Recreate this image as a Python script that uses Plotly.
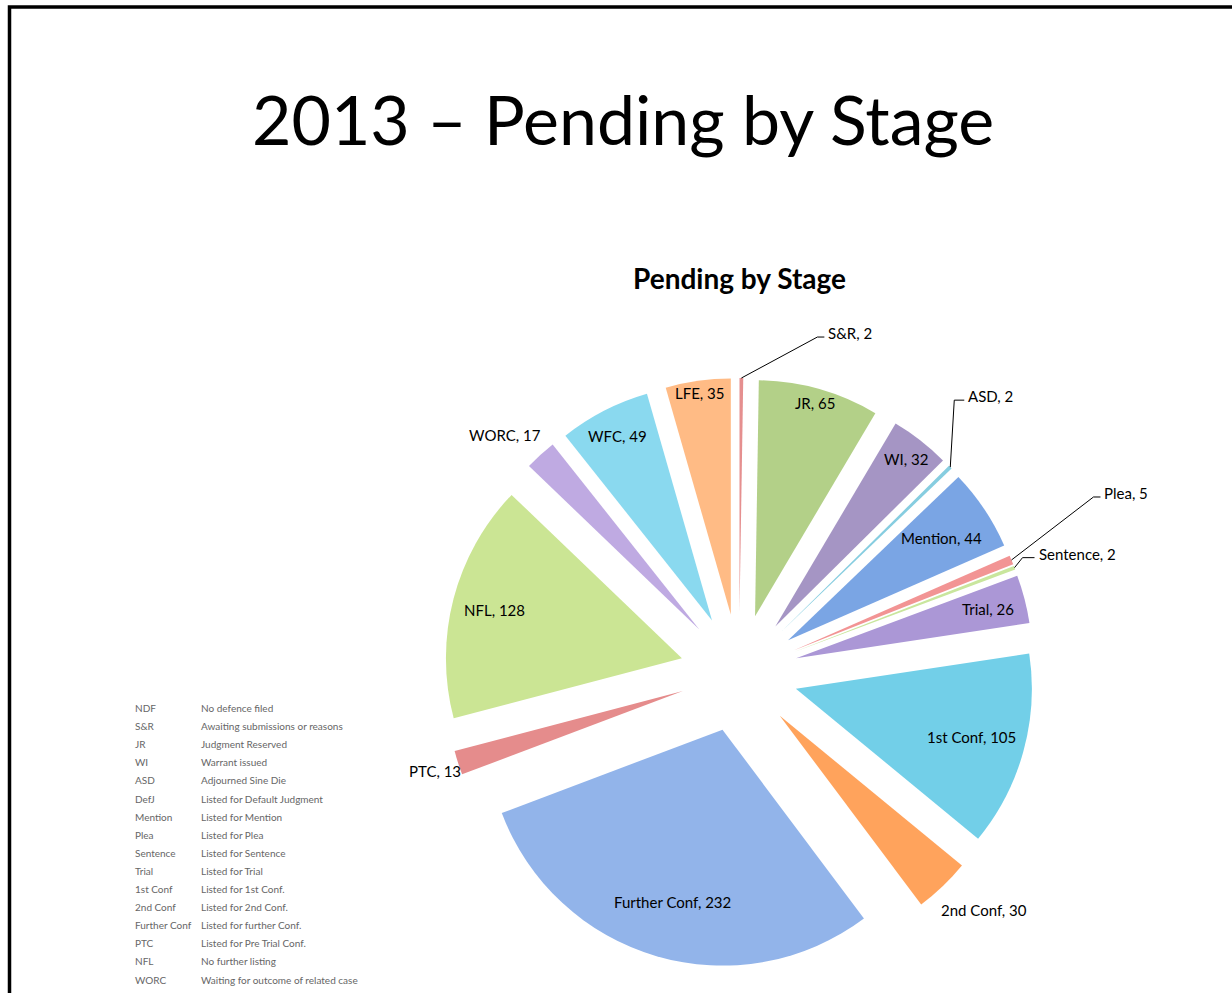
import math
import plotly.graph_objects as go

# ---------------- data ----------------
stages = ["S&R", "JR", "WI", "ASD", "Mention", "Plea", "Sentence", "Trial",
          "1st Conf", "2nd Conf", "Further Conf", "PTC", "NFL", "WORC", "WFC", "LFE"]
pending = [2, 65, 32, 2, 44, 5, 2, 26, 105, 30, 232, 13, 128, 17, 49, 35]

key_abbr = ["NDF", "S&R", "JR", "WI", "ASD", "DefJ", "Mention", "Plea", "Sentence",
            "Trial", "1st Conf", "2nd Conf", "Further Conf", "PTC", "NFL", "WORC"]
key_desc = ["No defence filed", "Awaiting submissions or reasons", "Judgment Reserved",
            "Warrant issued", "Adjourned Sine Die", "Listed for Default Judgment",
            "Listed for Mention", "Listed for Plea", "Listed for Sentence", "Listed for Trial",
            "Listed for 1st Conf.", "Listed for 2nd Conf.", "Listed for further Conf.",
            "Listed for Pre Trial Conf.", "No further listing",
            "Waiting for outcome of related case"]

slice_colors = ["#e58f8f", "#b3d088", "#a595c4", "#86cde0", "#7aa5e4", "#f29494",
                "#c9e69d", "#ab97d6", "#72cfe8", "#ffa35c", "#92b4ea", "#e58c8c",
                "#cbe594", "#bfaae2", "#8ad9ef", "#ffbb85"]

# ---------------- layout constants ----------------
W, H = 1232, 993
PULL = 0.25
DOM_X = [0.3604, 0.8393]
DOM_Y = [0.0252, 0.6193]
FONT = "Lato"

# label placement styles (radial factor of inside labels)
inside_k = {"JR": 0.94, "WI": 0.9, "Mention": 0.78, "Trial": 0.84, "1st Conf": 0.77,
            "Further Conf": 0.76, "NFL": 0.82, "WFC": 0.88, "LFE": 0.95}
outside_style = {  # label -> (radial factor, xanchor, yanchor, nudge x, nudge y)
    "WORC": (1.05, "right", "bottom", 10, 0),
    "PTC": (1.0, "right", "middle", 5, 8),
    "2nd Conf": (1.0, "left", "middle", -4, 24),
}
leader_style = {  # label -> (elbow dx, elbow dy, horizontal run)
    "S&R": (76, -41, 7),
    "ASD": (4, -67, 10),
    "Plea": (82, -63, 7),
    "Sentence": (8, -10, 12),
}

# ---------------- geometry (mirrors plotly's pie sizing) ----------------
rx = W * (DOM_X[1] - DOM_X[0])
ry = H * (DOM_Y[1] - DOM_Y[0])
R = min(rx, ry) / 2 / (1 + PULL)
CX = W * (DOM_X[0] + DOM_X[1]) / 2
CY = H * (1 - DOM_Y[0]) - ry / 2
total = sum(pending)


def px(x, y):
    return x / W, 1 - y / H


fig = go.Figure()
fig.add_trace(go.Pie(
    labels=stages, values=pending, sort=False, direction="clockwise", rotation=0,
    pull=[PULL] * len(pending), textinfo="none", hoverinfo="label+value",
    marker=dict(colors=slice_colors, line=dict(width=0)),
    domain=dict(x=DOM_X, y=DOM_Y), showlegend=False,
))

annotations = []
shapes = []
lab_font = dict(family=FONT, size=15, color="black")
cum = 0
for lab, v in zip(stages, pending):
    mid = (cum + v / 2) / total * 2 * math.pi
    cum += v
    dx, dy = math.sin(mid), -math.cos(mid)
    pcx, pcy = CX + PULL * R * dx, CY + PULL * R * dy
    text = f"{lab}, {v}".replace("&", "&amp;")
    if lab in leader_style:
        ex, ey, run = leader_style[lab]
        ox, oy = pcx + R * dx, pcy + R * dy
        bx, by = ox + ex, oy + ey
        p0, p1, p2 = px(ox, oy), px(bx, by), px(bx + run, by)
        shapes.append(dict(type="path", xref="paper", yref="paper",
                           path=f"M {p0[0]},{p0[1]} L {p1[0]},{p1[1]} L {p2[0]},{p2[1]}",
                           line=dict(color="black", width=1)))
        tx, ty = px(bx + run + 2, by - 4)
        annotations.append(dict(x=tx, y=ty, xref="paper", yref="paper", text=text,
                                showarrow=False, xanchor="left", yanchor="middle",
                                font=lab_font))
    elif lab in outside_style:
        k, xa, ya, nx, ny = outside_style[lab]
        tx, ty = px(pcx + k * R * dx + nx, pcy + k * R * dy + ny)
        annotations.append(dict(x=tx, y=ty, xref="paper", yref="paper", text=text,
                                showarrow=False, xanchor=xa, yanchor=ya, font=lab_font))
    else:
        k = inside_k.get(lab, 0.8)
        tx, ty = px(pcx + k * R * dx, pcy + k * R * dy)
        annotations.append(dict(x=tx, y=ty, xref="paper", yref="paper", text=text,
                                showarrow=False, xanchor="center", yanchor="middle",
                                font=lab_font))

# titles
annotations.append(dict(x=px(623, 0)[0], y=px(0, 118)[1], xref="paper", yref="paper",
                        text="2013 – Pending by Stage", showarrow=False,
                        xanchor="center", yanchor="middle",
                        font=dict(family=FONT, size=68, color="black")))
annotations.append(dict(x=px(739, 0)[0], y=px(0, 278)[1], xref="paper", yref="paper",
                        text="<b>Pending by Stage</b>", showarrow=False,
                        xanchor="center", yanchor="middle",
                        font=dict(family=FONT, size=28, color="black")))

# key table
for i, (a, d) in enumerate(zip(key_abbr, key_desc)):
    y = 708 + i * 18.1
    annotations.append(dict(x=px(133, 0)[0], y=px(0, y)[1], xref="paper", yref="paper",
                            text=a.replace("&", "&amp;"), showarrow=False,
                            xanchor="left", yanchor="middle",
                            font=dict(family=FONT, size=10, color="#666666")))
    annotations.append(dict(x=px(199, 0)[0], y=px(0, y)[1], xref="paper", yref="paper",
                            text=d, showarrow=False, xanchor="left", yanchor="middle",
                            font=dict(family=FONT, size=10, color="#666666")))

# slide frame
f0, f1 = px(9.5, 7), px(1300, 1100)
shapes.append(dict(type="rect", xref="paper", yref="paper", x0=f0[0], y0=f0[1],
                   x1=f1[0], y1=f1[1], line=dict(color="black", width=3.5)))

fig.update_layout(width=W, height=H, margin=dict(l=0, r=0, t=0, b=0),
                  paper_bgcolor="white", plot_bgcolor="white",
                  annotations=annotations, shapes=shapes)

fig.write_html("out.html", config={"displayModeBar": False},
               post_script="document.body.style.margin='0';document.body.style.overflow='hidden';")
